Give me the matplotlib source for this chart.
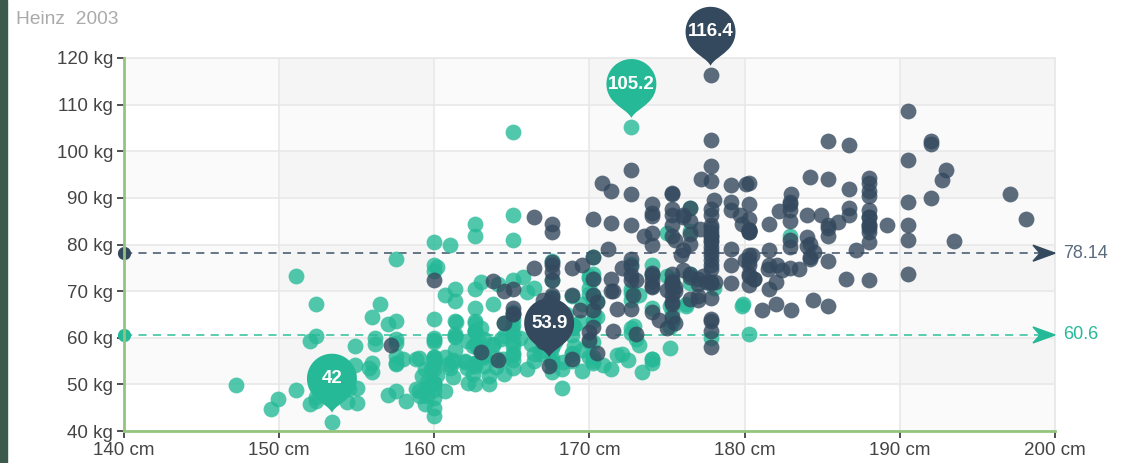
import numpy as np
import matplotlib
matplotlib.use("Agg")
import matplotlib.pyplot as plt
from matplotlib.path import Path
from matplotlib.patches import PathPatch, Polygon, Rectangle
from matplotlib import transforms

# Heinz 2003 height / weight data
female = [
    [161.2, 51.6], [167.5, 59.0], [159.5, 49.2], [157.0, 63.0], [155.8, 53.6], [170.0, 59.0], [159.1, 47.6], [166.0, 69.8],
    [176.2, 66.8], [160.2, 75.2], [172.5, 55.2], [170.9, 54.2], [172.9, 62.5], [153.4, 42.0], [160.0, 50.0], [147.2, 49.8],
    [168.2, 49.2], [175.0, 73.2], [157.0, 47.8], [167.6, 68.8], [159.5, 50.6], [175.0, 82.5], [166.8, 57.2], [176.5, 87.8],
    [170.2, 72.8], [174.0, 54.5], [173.0, 59.8], [179.9, 67.3], [170.5, 67.8], [160.0, 47.0], [154.4, 46.2], [162.0, 55.0],
    [176.5, 83.0], [160.0, 54.4], [152.0, 45.8], [162.1, 53.6], [170.0, 73.2], [160.2, 52.1], [161.3, 67.9], [166.4, 56.6],
    [168.9, 62.3], [163.8, 58.5], [167.6, 54.5], [160.0, 50.2], [161.3, 60.3], [167.6, 58.3], [165.1, 56.2], [160.0, 50.2],
    [170.0, 72.9], [157.5, 59.8], [167.6, 61.0], [160.7, 69.1], [163.2, 55.9], [152.4, 46.5], [157.5, 54.3], [168.3, 54.8],
    [180.3, 60.7], [165.5, 60.0], [165.0, 62.0], [164.5, 60.3], [156.0, 52.7], [160.0, 74.3], [163.0, 62.0], [165.7, 73.1],
    [161.0, 80.0], [162.0, 54.7], [166.0, 53.2], [174.0, 75.7], [172.7, 61.1], [167.6, 55.7], [151.1, 48.7], [164.5, 52.3],
    [163.5, 50.0], [152.0, 59.3], [169.0, 62.5], [164.0, 55.7], [161.2, 54.8], [155.0, 45.9], [170.0, 70.6], [176.2, 67.2],
    [170.0, 69.4], [162.5, 58.2], [170.3, 64.8], [164.1, 71.6], [169.5, 52.8], [163.2, 59.8], [154.5, 49.0], [159.8, 50.0],
    [173.2, 69.2], [170.0, 55.9], [161.4, 63.4], [169.0, 58.2], [166.2, 58.6], [159.4, 45.7], [162.5, 52.2], [159.0, 48.6],
    [162.8, 57.8], [159.0, 55.6], [179.8, 66.8], [162.9, 59.4], [161.0, 53.6], [151.1, 73.2], [168.2, 53.4], [168.9, 69.0],
    [173.2, 58.4], [171.8, 56.2], [178.0, 70.6], [164.3, 59.8], [163.0, 72.0], [168.5, 65.2], [166.8, 56.6], [172.7, 105.2],
    [163.5, 51.8], [169.4, 63.4], [167.8, 59.0], [159.5, 47.6], [167.6, 63.0], [161.2, 55.2], [160.0, 45.0], [163.2, 54.0],
    [162.2, 50.2], [161.3, 60.2], [149.5, 44.8], [157.5, 58.8], [163.2, 56.4], [172.7, 62.0], [155.0, 49.2], [156.5, 67.2],
    [164.0, 53.8], [160.9, 54.4], [162.8, 58.0], [167.0, 59.8], [160.0, 54.8], [160.0, 43.2], [168.9, 60.5], [158.2, 46.4],
    [156.0, 64.4], [160.0, 48.8], [167.1, 62.2], [158.0, 55.5], [167.6, 57.8], [156.0, 54.6], [162.1, 59.2], [173.4, 52.7],
    [159.8, 53.2], [170.5, 64.5], [159.2, 51.8], [157.5, 56.0], [161.3, 63.6], [162.6, 63.2], [160.0, 59.5], [168.9, 56.8],
    [165.1, 64.1], [162.6, 50.0], [165.1, 72.3], [166.4, 55.0], [160.0, 55.9], [152.4, 60.4], [170.2, 69.1], [162.6, 84.5],
    [170.2, 55.9], [158.8, 55.5], [172.7, 69.5], [167.6, 76.4], [162.6, 61.4], [167.6, 65.9], [156.2, 58.6], [175.2, 66.8],
    [172.1, 56.6], [162.6, 58.6], [160.0, 55.9], [165.1, 59.1], [182.9, 81.8], [166.4, 70.7], [165.1, 56.8], [177.8, 60.0],
    [165.1, 58.2], [175.3, 72.7], [154.9, 54.1], [158.8, 49.1], [172.7, 75.9], [168.9, 55.0], [161.3, 57.3], [167.6, 55.0],
    [165.1, 65.5], [175.3, 65.5], [157.5, 48.6], [163.8, 58.6], [167.6, 63.6], [165.1, 55.2], [165.1, 62.7], [168.9, 56.6],
    [162.6, 53.9], [164.5, 63.2], [176.5, 73.6], [168.9, 62.0], [175.3, 63.6], [159.4, 53.2], [160.0, 53.4], [170.2, 55.0],
    [162.6, 70.5], [167.6, 54.5], [162.6, 54.5], [160.7, 55.9], [160.0, 59.0], [157.5, 63.6], [162.6, 54.5], [152.4, 47.3],
    [170.2, 67.7], [165.1, 80.9], [172.7, 70.5], [165.1, 60.9], [170.2, 63.6], [170.2, 54.5], [170.2, 59.1], [161.3, 70.5],
    [167.6, 52.7], [167.6, 62.7], [165.1, 86.3], [162.6, 66.4], [152.4, 67.3], [168.9, 63.0], [170.2, 73.6], [175.2, 62.3],
    [175.2, 57.7], [160.0, 55.4], [165.1, 104.1], [174.0, 55.5], [170.2, 77.3], [160.0, 80.5], [167.6, 64.5], [167.6, 72.3],
    [167.6, 61.4], [154.9, 58.2], [162.6, 81.8], [175.3, 63.6], [171.4, 53.4], [157.5, 54.5], [165.1, 53.6], [160.0, 60.0],
    [174.0, 73.6], [162.6, 61.4], [174.0, 55.5], [162.6, 63.6], [161.3, 60.9], [156.2, 60.0], [149.9, 46.8], [169.5, 57.3],
    [160.0, 64.1], [175.3, 63.6], [169.5, 67.3], [160.0, 75.5], [172.7, 68.2], [162.6, 61.4], [157.5, 76.8], [176.5, 71.8],
    [164.4, 55.5], [160.7, 48.6], [174.0, 66.4], [163.8, 67.3],
]
male = [
    [174.0, 65.6], [175.3, 71.8], [193.5, 80.7], [186.5, 72.6], [187.2, 78.8], [181.5, 74.8], [184.0, 86.4], [184.5, 78.4],
    [175.0, 62.0], [184.0, 81.6], [180.0, 76.6], [177.8, 83.6], [192.0, 90.0], [176.0, 74.6], [174.0, 71.0], [184.0, 79.6],
    [192.7, 93.8], [171.5, 70.0], [173.0, 72.4], [176.0, 85.9], [176.0, 78.8], [180.5, 77.8], [172.7, 66.2], [176.0, 86.4],
    [173.5, 81.8], [178.0, 89.6], [180.3, 82.8], [180.3, 76.4], [164.5, 63.2], [173.0, 60.9], [183.5, 74.8], [175.5, 70.0],
    [188.0, 72.4], [189.2, 84.1], [172.8, 69.1], [170.0, 59.5], [182.0, 67.2], [170.0, 61.3], [177.8, 68.6], [184.2, 80.1],
    [186.7, 87.8], [171.4, 84.7], [172.7, 73.4], [175.3, 72.1], [180.3, 82.6], [182.9, 88.7], [188.0, 84.1], [177.2, 94.1],
    [172.1, 74.9], [167.0, 59.1], [169.5, 75.6], [174.0, 86.2], [172.7, 75.3], [182.2, 87.1], [164.1, 55.2], [163.0, 57.0],
    [171.5, 61.4], [184.2, 76.8], [174.0, 86.8], [174.0, 72.2], [177.0, 71.6], [186.0, 84.8], [167.0, 68.2], [171.8, 66.1],
    [182.0, 72.0], [167.0, 64.6], [177.8, 74.8], [164.5, 70.0], [192.0, 101.6], [175.5, 63.2], [171.2, 79.1], [181.6, 78.9],
    [167.4, 67.7], [181.1, 66.0], [177.0, 68.2], [174.5, 63.9], [177.5, 72.0], [170.5, 56.8], [182.4, 74.5], [197.1, 90.9],
    [180.1, 93.0], [175.5, 80.9], [180.6, 72.7], [184.4, 68.0], [175.5, 70.9], [180.6, 72.5], [177.0, 72.5], [177.1, 83.4],
    [181.6, 75.5], [176.5, 73.0], [175.0, 70.2], [174.0, 73.4], [165.1, 70.5], [177.0, 68.9], [192.0, 102.3], [176.5, 68.4],
    [169.4, 65.9], [182.1, 75.7], [179.8, 84.5], [175.3, 87.7], [184.9, 86.4], [177.3, 73.2], [167.4, 53.9], [178.1, 72.0],
    [168.9, 55.5], [157.2, 58.4], [180.3, 83.2], [170.2, 72.7], [177.8, 64.1], [172.7, 72.3], [165.1, 65.0], [186.7, 86.4],
    [165.1, 65.0], [174.0, 88.6], [175.3, 84.1], [185.4, 66.8], [177.8, 75.5], [180.3, 93.2], [180.3, 82.7], [177.8, 58.0],
    [177.8, 79.5], [177.8, 78.6], [177.8, 71.8], [177.8, 116.4], [163.8, 72.2], [188.0, 83.6], [198.1, 85.5], [175.3, 90.9],
    [166.4, 85.9], [190.5, 89.1], [166.4, 75.0], [177.8, 77.7], [179.7, 86.4], [172.7, 90.9], [190.5, 73.6], [185.4, 76.4],
    [168.9, 69.1], [167.6, 84.5], [175.3, 64.5], [170.2, 69.1], [190.5, 108.6], [177.8, 86.4], [190.5, 80.9], [177.8, 87.7],
    [184.2, 94.5], [176.5, 80.2], [177.8, 72.0], [180.3, 71.4], [171.4, 72.7], [172.7, 84.1], [172.7, 76.8], [177.8, 63.6],
    [177.8, 80.9], [182.9, 80.9], [170.2, 85.5], [167.6, 68.6], [175.3, 67.7], [165.1, 66.4], [185.4, 102.3], [181.6, 70.5],
    [172.7, 95.9], [190.5, 84.1], [179.1, 87.3], [175.3, 71.8], [170.2, 65.9], [193.0, 95.9], [171.4, 91.4], [177.8, 81.8],
    [177.8, 96.8], [167.6, 69.1], [167.6, 82.7], [180.3, 75.5], [182.9, 79.5], [176.5, 73.6], [186.7, 91.8], [188.0, 84.1],
    [188.0, 85.9], [177.8, 81.8], [174.0, 82.5], [177.8, 80.5], [171.4, 70.0], [185.4, 81.8], [185.4, 84.1], [188.0, 90.5],
    [188.0, 91.4], [182.9, 89.1], [176.5, 85.0], [175.3, 69.1], [175.3, 73.6], [188.0, 80.5], [188.0, 82.7], [175.3, 86.4],
    [170.5, 67.7], [179.1, 92.7], [177.8, 93.6], [175.3, 70.9], [182.9, 75.0], [170.8, 93.2], [188.0, 93.2], [180.3, 77.7],
    [177.8, 61.4], [185.4, 94.1], [168.9, 75.0], [185.4, 83.6], [180.3, 85.5], [174.0, 73.9], [167.6, 66.8], [182.9, 87.3],
    [160.0, 72.3], [180.3, 88.6], [167.6, 75.5], [186.7, 101.4], [175.3, 91.1], [175.3, 67.3], [175.9, 77.7], [175.3, 81.8],
    [179.1, 75.5], [181.6, 84.5], [177.8, 76.6], [182.9, 85.0], [177.8, 102.5], [184.2, 77.3], [179.1, 71.8], [176.5, 87.9],
    [188.0, 94.3], [174.0, 70.9], [167.6, 64.5], [170.2, 77.3], [167.6, 72.3], [188.0, 87.3], [174.0, 80.0], [176.5, 82.3],
    [180.3, 73.6], [167.6, 74.1], [188.0, 85.9], [180.3, 73.2], [167.6, 76.3], [183.0, 65.9], [183.0, 90.9], [179.1, 89.1],
    [170.2, 62.3], [177.8, 82.7], [179.1, 79.1], [190.5, 98.2], [177.8, 84.1], [180.3, 83.2], [180.3, 83.2],
]

x_ticks = [140, 150, 160, 170, 180, 190, 200]
y_ticks = [40, 50, 60, 70, 80, 90, 100, 110, 120]

GREEN = "#26b997"
NAVY = "#34495e"
FONT = "Liberation Sans"


def pin_path():
    # pin shape in pixels, tip at (0, 0), round head on top
    r, cy = 25.0, 34.0
    ang = np.linspace(np.radians(-50), np.radians(230), 40)
    head = np.column_stack([r * np.cos(ang), cy + r * np.sin(ang)])
    p1, p2 = head[0], head[-1]
    verts = [(0, 0), (3, 6), (p1[0] - 6, p1[1] - 6), tuple(p1)]
    codes = [Path.MOVETO, Path.CURVE4, Path.CURVE4, Path.CURVE4]
    for v in head[1:]:
        verts.append(tuple(v))
        codes.append(Path.LINETO)
    verts += [(p2[0] + 6, p2[1] - 6), (-3, 6), (0, 0), (0, 0)]
    codes += [Path.CURVE4, Path.CURVE4, Path.CURVE4, Path.CLOSEPOLY]
    return Path(verts, codes)


def at_point(ax, x, y, dx=0, dy=0):
    # pixel-unit shapes anchored at a data point
    return transforms.Affine2D().translate(dx, dy) + transforms.ScaledTranslation(x, y, ax.transData)


def main():
    fig = plt.figure(figsize=(11.32, 4.63), dpi=100)
    fig.patches.append(Rectangle((0, 0), 7 / 1132, 1, transform=fig.transFigure,
                                 color="#3b5a4b", zorder=0))
    ax = fig.add_axes([124 / 1132, 32 / 463, 931 / 1132, 373 / 463])
    ax.set_xlim(140, 200)
    ax.set_ylim(40, 120)

    # split areas
    for i, x0 in enumerate(x_ticks[:-1]):
        if i % 2 == 1:
            ax.axvspan(x0, x0 + 10, color="black", alpha=0.02, lw=0, zorder=0)
    for i, y0 in enumerate(y_ticks[:-1]):
        if i % 2 == 1:
            ax.axhspan(y0, y0 + 10, color="black", alpha=0.02, lw=0, zorder=0)
    ax.grid(True, color="#e8e8e8", lw=1.2, zorder=0.5)
    ax.set_axisbelow(True)

    for side in ["top", "right"]:
        ax.spines[side].set_visible(False)
    for side in ["left", "bottom"]:
        ax.spines[side].set_color("#93c47d")
        ax.spines[side].set_linewidth(2)
    ax.plot([140, 200], [120, 120], color="#e8e8e8", lw=1.2, zorder=0.5, clip_on=False)
    ax.plot([200, 200], [40, 120], color="#e8e8e8", lw=1.2, zorder=0.5, clip_on=False)

    ax.set_xticks(x_ticks)
    ax.set_yticks(y_ticks)
    ax.set_xticklabels([f"{t} cm" for t in x_ticks])
    ax.set_yticklabels([f"{t} kg" for t in y_ticks])
    ax.tick_params(colors="#333333", length=5, width=1.2, labelsize=13.5, pad=3)
    for lab in ax.get_xticklabels() + ax.get_yticklabels():
        lab.set_fontfamily(FONT)
        lab.set_color("#444444")

    fig.text(16 / 1132, 1 - 19 / 463, "Heinz  2003", ha="left", va="center",
             fontsize=13.8, color="#aaaaaa", family=FONT)

    fx, fy = np.array(female).T
    mx, my = np.array(male).T

    # average mark lines
    for ys, col, lcol in [(fy, GREEN, "#4cc9a8"), (my, NAVY, "#5a6b7e")]:
        avg = round(float(np.mean(ys)), 2)
        ax.plot([140, 200], [avg, avg], ls=(0, (4.5, 3.5)), color=lcol, lw=1.3, zorder=1.5,
                clip_on=False)
        ax.plot([140], [avg], "o", ms=8.5, color=col, zorder=1.6, clip_on=False)
        ax.add_patch(Polygon([(0, 0), (-22, 8), (-15, 0), (-22, -8)], closed=True, color=col,
                             transform=at_point(ax, 200, avg), zorder=1.6, clip_on=False))
        txt_col = lcol if col == NAVY else col
        ax.text(200, avg, f"{avg:g}", ha="left", va="center", fontsize=13, color=txt_col,
                family=FONT, clip_on=False,
                transform=transforms.offset_copy(ax.transData, fig=fig, x=8, y=0, units="dots"))

    ax.scatter(fx, fy, s=130, color=GREEN, alpha=0.8, lw=0, zorder=2, clip_on=False)
    ax.scatter(mx, my, s=130, color=NAVY, alpha=0.8, lw=0, zorder=2.1, clip_on=False)

    # max / min pins
    pin = pin_path()
    for xs, ys, col in [(fx, fy, GREEN), (mx, my, NAVY)]:
        for idx in [int(np.argmax(ys)), int(np.argmin(ys))]:
            px, py = xs[idx], ys[idx]
            ax.add_patch(PathPatch(pin, facecolor=col, edgecolor="none", zorder=3,
                                   transform=at_point(ax, px, py, dy=9), clip_on=False))
            ax.text(px, py, f"{py:g}", ha="center", va="center", color="white",
                    fontsize=13.5, fontweight="bold", family=FONT, zorder=4, clip_on=False,
                    transform=transforms.offset_copy(ax.transData, fig=fig, x=0, y=43, units="dots"))

    fig.savefig("out.png", dpi=100)


if __name__ == "__main__":
    main()
